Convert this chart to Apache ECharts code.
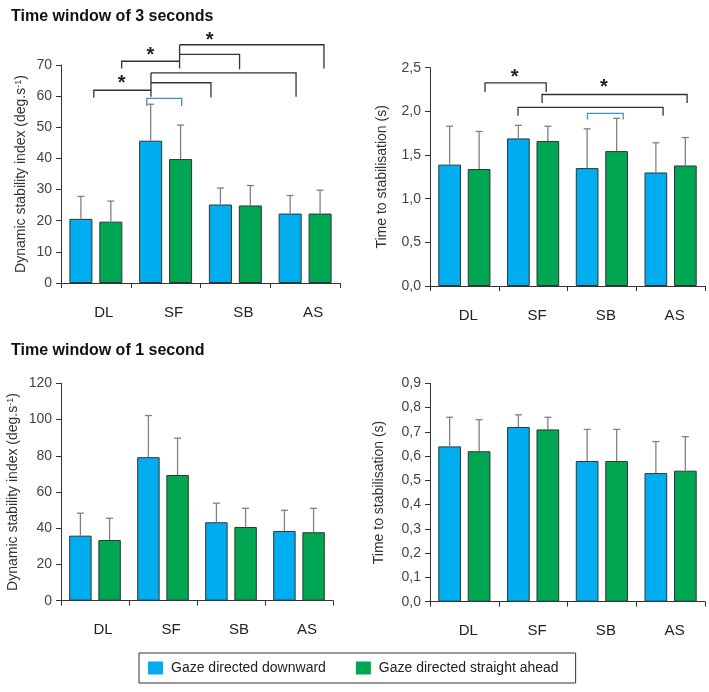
<!DOCTYPE html>
<html>

<head>
    <meta charset="utf-8" />
    <script src="https://cdn.jsdelivr.net/npm/echarts@6/dist/echarts.min.js"></script>
</head>

<body style="margin:0;background:#fff;">
    <div id="main" style="width: 709px;height:692px;"></div>
    <script type="text/javascript">
        // categories
        const cats = ['DL', 'SF', 'SB', 'AS'];
        const nameDown = 'Gaze directed downward';
        const nameAhead = 'Gaze directed straight ahead';

        // time window 3 s - dynamic stability index (mean, sd)
        const dsi3Down = [20.6, 45.7, 25.2, 22.3];
        const dsi3DownSd = [7.2, 11.7, 5.3, 5.8];
        const dsi3Ahead = [19.7, 39.8, 24.9, 22.3];
        const dsi3AheadSd = [6.6, 10.9, 6.4, 7.5];

        // time window 3 s - time to stabilisation
        const tts3Down = [1.39, 1.69, 1.35, 1.30];
        const tts3DownSd = [0.44, 0.15, 0.45, 0.34];
        const tts3Ahead = [1.34, 1.66, 1.545, 1.38];
        const tts3AheadSd = [0.43, 0.17, 0.375, 0.32];

        // time window 1 s - dynamic stability index
        const dsi1Down = [35.9, 79.2, 43.3, 38.5];
        const dsi1DownSd = [12.4, 23.0, 10.5, 11.4];
        const dsi1Ahead = [33.5, 69.4, 40.7, 37.8];
        const dsi1AheadSd = [12.0, 20.3, 10.3, 13.2];

        // time window 1 s - time to stabilisation
        const tts1Down = [0.64, 0.72, 0.58, 0.53];
        const tts1DownSd = [0.12, 0.05, 0.13, 0.13];
        const tts1Ahead = [0.62, 0.71, 0.58, 0.54];
        const tts1AheadSd = [0.13, 0.05, 0.13, 0.14];

        // significance brackets: points [category, offset in band, value]
        const dsi3Brackets = [
            [[0, -0.03, 59.5], [0, -0.03, 61.9], [1, -0.21, 61.9]],
            [[1, -0.21, 59.8], [1, -0.21, 67.5]],
            [[1, -0.21, 64.3], [2, -0.35, 64.3], [2, -0.35, 59.6]],
            [[1, -0.21, 67.5], [3, -0.13, 67.5], [3, -0.13, 59.8]],
            [[0, 0.37, 68.9], [0, 0.37, 71.2], [1, 0.20, 71.2]],
            [[1, 0.20, 68.9], [1, 0.20, 76.5]],
            [[1, 0.20, 73.4], [2, 0.06, 73.4], [2, 0.06, 68.6]],
            [[1, 0.20, 76.5], [3, 0.27, 76.5], [3, 0.27, 68.9]]
        ];
        const dsi3BlueBrackets = [
            [[1, -0.27, 56.8], [1, -0.27, 59.3], [1, 0.23, 59.3], [1, 0.23, 56.8]]
        ];
        const dsi3Stars = [[0, 0.37, 65.4], [1, -0.22, 74.2], [2, -0.37, 79.3]];

        const tts3Brackets = [
            [[0, 0.30, 2.223], [0, 0.30, 2.326], [1, 0.19, 2.326], [1, 0.19, 2.223]],
            [[1, 0.13, 2.097], [1, 0.13, 2.193], [3, 0.24, 2.193], [3, 0.24, 2.097]],
            [[1, -0.22, 1.95], [1, -0.22, 2.045], [3, -0.11, 2.045], [3, -0.11, 1.95]]
        ];
        const tts3BlueBrackets = [
            [[2, -0.21, 1.907], [2, -0.21, 1.976], [2, 0.31, 1.976], [2, 0.31, 1.907]]
        ];
        const tts3Stars = [[1, -0.27, 2.43], [2, 0.03, 2.32]];

        const BLUE = '#00aeef';
        const GREEN = '#00a651';
        const AXIS = '#333';
        const BAR_OFF = 0.2145;
        const FONT = 'Liberation Sans, Arial, sans-serif';

        const myChart = echarts.init(document.getElementById('main'), null, { renderer: 'canvas' });

        const comma = v => v.toFixed(1).replace('.', ',');

        const grids = [
            { left: 61, top: 65, width: 279, height: 218 },
            { left: 430, top: 67.7, width: 275, height: 218.3 },
            { left: 61, top: 383.3, width: 272, height: 217.4 },
            { left: 430, top: 383.3, width: 275, height: 218.4 }
        ];

        function xAx(i, pad) {
            return {
                type: 'category', gridIndex: i, data: cats,
                axisLine: { show: true, lineStyle: { color: AXIS, width: 1 } },
                axisTick: { show: true, length: 5, alignWithLabel: false, lineStyle: { color: AXIS } },
                axisLabel: { margin: 22, fontSize: 15, color: '#222', fontFamily: FONT, padding: [0, 0, 0, pad] },
                splitLine: { show: false }
            };
        }

        function yAx(i, max, step, fmt, name, gap) {
            return {
                type: 'value', gridIndex: i, min: 0, max: max, interval: step,
                name: name, nameLocation: 'middle', nameGap: gap,
                nameTextStyle: {
                    fontSize: 14, color: '#333', fontFamily: FONT,
                    rich: { sup: { fontSize: 9, color: '#333', fontFamily: FONT, padding: [0, 0, 6, 0] } }
                },
                axisLine: { show: true, lineStyle: { color: AXIS, width: 1 } },
                axisTick: { show: true, length: 5, lineStyle: { color: AXIS } },
                axisLabel: { margin: 9, fontSize: 14, color: '#444', fontFamily: FONT, formatter: fmt },
                splitLine: { show: false }
            };
        }

        function barSeries(i, name, vals, color) {
            return {
                type: 'bar', name: name, xAxisIndex: i, yAxisIndex: i, data: vals,
                barWidth: '33%', barGap: '30%', z: 2,
                itemStyle: { color: color, borderColor: '#333', borderWidth: 1 }
            };
        }

        function errSeries(i, means, sds, side) {
            return {
                type: 'custom', xAxisIndex: i, yAxisIndex: i, z: 5, silent: true,
                data: means.map((m, k) => [k, m, sds[k]]),
                encode: { x: 0, y: 1 },
                renderItem: function(params, api) {
                    const c = api.coord([api.value(0), api.value(1)]);
                    const t = api.coord([api.value(0), api.value(1) + api.value(2)]);
                    const band = api.size([1, 0])[0];
                    const x = c[0] + side * BAR_OFF * band;
                    const st = { stroke: '#808080', lineWidth: 1.3 };
                    return {
                        type: 'group', children: [
                            { type: 'line', shape: { x1: x, y1: c[1], x2: x, y2: t[1] }, style: st },
                            { type: 'line', shape: { x1: x - 3.5, y1: t[1], x2: x + 3.5, y2: t[1] }, style: st }
                        ]
                    };
                }
            };
        }

        function bracketSeries(i, lines, color) {
            return {
                type: 'custom', xAxisIndex: i, yAxisIndex: i, z: 6, silent: true,
                data: lines.map((l, k) => [l[0][0], 0, k]),
                encode: { x: 0, y: 1 },
                renderItem: function(params, api) {
                    const band = api.size([1, 0])[0];
                    const pts = lines[params.dataIndex].map(p => {
                        const c = api.coord([p[0], p[2]]);
                        return [c[0] + p[1] * band, c[1]];
                    });
                    return { type: 'polyline', shape: { points: pts }, style: { stroke: color, lineWidth: 1.3, fill: null } };
                }
            };
        }

        function starSeries(i, stars) {
            return {
                type: 'custom', xAxisIndex: i, yAxisIndex: i, z: 6, silent: true,
                data: stars.map((s, k) => [s[0], 0, k]),
                encode: { x: 0, y: 1 },
                renderItem: function(params, api) {
                    const s = stars[params.dataIndex];
                    const band = api.size([1, 0])[0];
                    const c = api.coord([s[0], s[2]]);
                    return {
                        type: 'text', x: c[0] + s[1] * band, y: c[1] + 4,
                        style: { text: '*', fontSize: 20, fontWeight: 'bold', fill: '#222', align: 'center', verticalAlign: 'middle', fontFamily: FONT }
                    };
                }
            };
        }

        function panel(i, down, downSd, ahead, aheadSd) {
            return [
                barSeries(i, nameDown, down, BLUE),
                barSeries(i, nameAhead, ahead, GREEN),
                errSeries(i, down, downSd, -1),
                errSeries(i, ahead, aheadSd, 1)
            ];
        }

        const option = {
            animation: false,
            textStyle: { fontFamily: FONT },
            title: [
                { text: 'Time window of 3 seconds', left: 6, top: 4, textStyle: { fontSize: 16, fontWeight: 'bold', color: '#111', fontFamily: FONT } },
                { text: 'Time window of 1 second', left: 6, top: 338, textStyle: { fontSize: 16, fontWeight: 'bold', color: '#111', fontFamily: FONT } }
            ],
            legend: {
                data: [nameDown, nameAhead],
                left: 139, top: 653,
                orient: 'horizontal',
                itemWidth: 15, itemHeight: 13, itemGap: 30,
                icon: 'rect',
                itemStyle: { borderWidth: 0 },
                padding: [8, 17, 8, 9],
                borderColor: '#333', borderWidth: 1,
                textStyle: { fontSize: 14, color: '#222', fontFamily: FONT, padding: [0, 0, 0, 3] }
            },
            grid: grids.map(g => Object.assign({ containLabel: false, outerBoundsMode: 'none' }, g)),
            xAxis: [xAx(0, 16), xAx(1, 8), xAx(2, 16), xAx(3, 8)],
            yAxis: [
                yAx(0, 70, 10, v => v, 'Dynamic stability index (deg.s{sup|-1})', 32),
                yAx(1, 2.5, 0.5, comma, 'Time to stabilisation (s)', 41),
                yAx(2, 120, 20, v => v, 'Dynamic stability index (deg.s{sup|-1})', 40),
                yAx(3, 0.9, 0.1, comma, 'Time to stabilisation (s)', 44)
            ],
            series: [].concat(
                panel(0, dsi3Down, dsi3DownSd, dsi3Ahead, dsi3AheadSd),
                panel(1, tts3Down, tts3DownSd, tts3Ahead, tts3AheadSd),
                panel(2, dsi1Down, dsi1DownSd, dsi1Ahead, dsi1AheadSd),
                panel(3, tts1Down, tts1DownSd, tts1Ahead, tts1AheadSd),
                [
                    bracketSeries(0, dsi3Brackets, '#333'),
                    bracketSeries(0, dsi3BlueBrackets, '#4a8fc4'),
                    starSeries(0, dsi3Stars),
                    bracketSeries(1, tts3Brackets, '#333'),
                    bracketSeries(1, tts3BlueBrackets, '#4a8fc4'),
                    starSeries(1, tts3Stars)
                ]
            )
        };

        myChart.setOption(option);
        window.addEventListener('resize', myChart.resize);
    </script>
</body>

</html>
